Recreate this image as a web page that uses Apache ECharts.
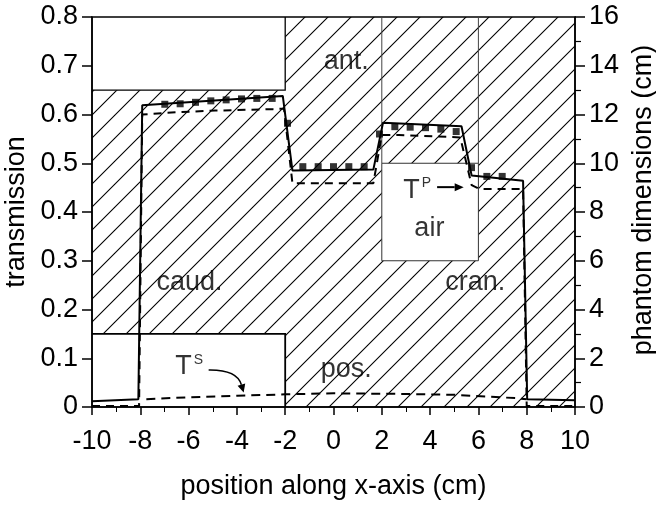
<!DOCTYPE html>
<html><head><meta charset="utf-8">
<script src="https://cdn.jsdelivr.net/npm/echarts@6/dist/echarts.min.js"></script>
<style>html,body{margin:0;padding:0;background:#fff}#c{width:656px;height:506px}</style>
</head><body><div id="c"></div>
<script>
// ---------------- data ----------------
// solid line: calculated total transmission
const totalT = [[-10,0.012],[-8.08,0.016],[-7.92,0.619],[-2.1,0.638],[-1.7,0.485],[1.65,0.487],[2.05,0.583],[5.3,0.576],[5.72,0.475],[7.85,0.464],[8.02,0.016],[10,0.014]];
// dashed line: primary transmission T^P
const primaryT = [[-10,0.002],[-8.05,0.002],[-7.92,0.600],[-6.4,0.605],[-4.9,0.608],[-2.5,0.611],[-2.05,0.612],[-1.7,0.459],[1.65,0.459],[2.0,0.558],[2.7,0.558],[5.25,0.553],[5.72,0.455],[6.05,0.447],[7.85,0.447],[8.0,0.002],[10,0.002]];
// dashed line: scatter transmission T^S
const scatterT = [[-7.75,0.016],[-6,0.020],[-4,0.023],[-2,0.026],[0,0.028],[2.5,0.027],[5,0.025],[6.5,0.021],[7.6,0.018],[8.0,0.016]];
// squares: measured transmission
const measX = [-6.985,-6.35,-5.715,-5.08,-4.445,-3.81,-3.175,-2.54,-1.905,-1.27,-0.635,0,0.635,1.27,1.905,2.54,3.175,3.81,4.445,5.08,5.715,6.35,6.985];
const measY = [0.621,0.622,0.625,0.628,0.630,0.632,0.633,0.633,0.582,0.493,0.493,0.493,0.493,0.493,0.560,0.575,0.574,0.573,0.570,0.565,0.491,0.473,0.473];
// phantom geometry (cm, right axis)
const phantomOutline = [[-10,3],[-2,3],[-2,0],[10,0],[10,16],[-2,16],[-2,13],[-10,13]];
const topBox = [[-10,13],[-2,13],[-2,16]];
const bottomBox = [[-10,3],[-2,3],[-2,0]];
const airBox = [[2,10],[6,6]];
const columnX = [2,6];
const columnTop = 16, columnBottom = 10;
// region labels
const regionNames = ['ant.','caud.','cran.','pos.','air'];
const regionX = [0.53,-5.96,5.87,0.53,3.97];
const regionY = [0.708,0.256,0.256,0.076,0.367];
// T labels and arrows (start, control, end)
const tNames = ['P','S'];
const tX = [2.89,-6.55];
const tY = [0.445,0.082];
const arrowP = [[4.29,0.451],[4.8,0.451],[5.39,0.451]];
const arrowS = [[-5.17,0.076],[-4.0,0.077],[-3.72,0.030]];

// ---------------- styles ----------------
const FONT = 'Liberation Sans, Arial, Helvetica, sans-serif';
const FS = 27;
function makeHatch(p, w) {
  const c = document.createElement('canvas'); c.width = p; c.height = p;
  const g = c.getContext('2d');
  g.strokeStyle = '#000'; g.lineWidth = w; g.beginPath();
  for (let k = 0; k <= 2; k++) { const cc = k * p; g.moveTo(cc + 2, -2); g.lineTo(cc - p - 2, p + 2); }
  g.stroke();
  return c;
}
const hatch = { image: makeHatch(23, 1.1), repeat: 'repeat' };

function arrowShapes(pts, api, lw, headLen, headHalf) {
  const s = api.coord(pts[0]), c = api.coord(pts[1]), e = api.coord(pts[2]);
  const dx = e[0] - c[0], dy = e[1] - c[1], L = Math.hypot(dx, dy) || 1;
  const ux = dx / L, uy = dy / L;
  const bx = e[0] - ux * headLen, by = e[1] - uy * headLen;
  return [
    { type: 'bezierCurve', shape: { x1: s[0], y1: s[1], cpx1: c[0], cpy1: c[1], x2: bx, y2: by }, style: { stroke: '#000', lineWidth: lw, fill: null } },
    { type: 'polygon', shape: { points: [[e[0], e[1]], [bx - uy * headHalf, by + ux * headHalf], [bx + uy * headHalf, by - ux * headHalf]] }, style: { fill: '#000', stroke: null } }
  ];
}

const chart = echarts.init(document.getElementById('c'), null, { renderer: 'canvas' });
const axisLbl = { color: '#000', fontSize: FS, fontFamily: FONT };
const nameStyle = { color: '#000', fontSize: FS, fontFamily: FONT };

chart.setOption({
  animation: false,
  backgroundColor: '#fff',
  grid: { left: 92, right: 81, top: 17, bottom: 99, containLabel: false, outerBoundsMode: 'none', show: true, borderColor: '#000', borderWidth: 1.5, backgroundColor: 'transparent' },
  xAxis: {
    type: 'value', min: -10, max: 10, interval: 2,
    axisLine: { show: true, onZero: false, lineStyle: { color: '#000', width: 1.5 } },
    axisTick: { show: true, length: 8, lineStyle: { color: '#000', width: 1.5 } },
    minorTick: { show: true, splitNumber: 2, length: 5, lineStyle: { color: '#000', width: 1 } },
    splitLine: { show: false }, minorSplitLine: { show: false },
    axisLabel: Object.assign({ margin: 21 }, axisLbl),
    name: 'position along x-axis (cm)', nameLocation: 'middle', nameGap: 66, nameTextStyle: nameStyle
  },
  yAxis: [{
    type: 'value', min: 0, max: 0.8, interval: 0.1,
    axisLine: { show: true, onZero: false, lineStyle: { color: '#000', width: 1.5 } },
    axisTick: { show: true, length: 10, lineStyle: { color: '#000', width: 1.5 } },
    splitLine: { show: false },
    axisLabel: Object.assign({ margin: 14 }, axisLbl),
    name: 'transmission', nameLocation: 'middle', nameRotate: 90, nameGap: 52, nameTextStyle: nameStyle
  }, {
    type: 'value', min: 0, max: 16, interval: 2, position: 'right',
    axisLine: { show: true, onZero: false, lineStyle: { color: '#000', width: 1.5 } },
    axisTick: { show: true, length: 10, lineStyle: { color: '#000', width: 1.5 } },
    minorTick: { show: true, splitNumber: 2, length: 6, lineStyle: { color: '#000', width: 1.2 } },
    splitLine: { show: false }, minorSplitLine: { show: false },
    axisLabel: Object.assign({ margin: 14 }, axisLbl),
    name: 'phantom dimensions (cm)', nameLocation: 'middle', nameRotate: 90, nameGap: 55,
    nameTextStyle: Object.assign({ padding: [0, 0, 0, 24] }, nameStyle)
  }],
  series: [
    {
      type: 'custom', yAxisIndex: 1, z: 1, silent: true, data: [[0, 0]],
      renderItem: function (params, api) {
        const P = pts => pts.map(p => api.coord(p));
        const a = api.coord(airBox[0]), b = api.coord(airBox[1]);
        const ch = [
          { type: 'polygon', shape: { points: P(phantomOutline) }, style: { fill: hatch, stroke: null } },
          { type: 'polyline', shape: { points: P(topBox) }, style: { stroke: '#000', lineWidth: 1.3, fill: null } },
          { type: 'polyline', shape: { points: P(bottomBox) }, style: { stroke: '#000', lineWidth: 1.8, fill: null } },
          { type: 'rect', shape: { x: a[0], y: a[1], width: b[0] - a[0], height: b[1] - a[1] }, style: { fill: '#fff', stroke: '#333', lineWidth: 1 } }
        ];
        columnX.forEach(x => ch.push({ type: 'polyline', shape: { points: P([[x, columnBottom], [x, columnTop]]) }, style: { stroke: '#444', lineWidth: 1, fill: null } }));
        return { type: 'group', children: ch };
      }
    },
    { type: 'line', data: totalT, showSymbol: false, z: 4, lineStyle: { color: '#000', width: 2 } },
    { type: 'line', data: primaryT, showSymbol: false, z: 3, lineStyle: { color: '#000', width: 2, type: [8, 6] } },
    { type: 'line', data: scatterT, showSymbol: false, z: 3, lineStyle: { color: '#000', width: 2, type: [9, 6] } },
    { type: 'scatter', data: measX.map((x, i) => [x, measY[i]]), symbol: 'rect', symbolSize: 7, z: 5, itemStyle: { color: '#000' } },
    {
      type: 'custom', yAxisIndex: 0, z: 6, silent: true, data: [[0, 0]],
      renderItem: function (params, api) {
        return { type: 'group', children: arrowShapes(arrowP, api, 2, 9, 4).concat(arrowShapes(arrowS, api, 1.5, 8, 4)) };
      }
    },
    {
      type: 'scatter', z: 6, symbolSize: 0, silent: true,
      data: regionNames.map((n, i) => ({ value: [regionX[i], regionY[i]], name: n })),
      label: { show: true, position: 'inside', formatter: '{b}', color: '#000', fontSize: FS, fontFamily: FONT }
    },
    {
      type: 'scatter', z: 6, symbolSize: 0, silent: true,
      data: tNames.map((n, i) => ({ value: [tX[i], tY[i]], name: n })),
      label: {
        show: true, position: 'inside', align: 'left',
        formatter: p => '{a|T}{b|' + p.name + '}',
        rich: { a: { fontSize: FS, fontFamily: FONT, color: '#000' }, b: { fontSize: 14, fontFamily: FONT, color: '#000', verticalAlign: 'top', padding: [0, 0, 0, 2] } }
      }
    }
  ]
});
</script></body></html>
